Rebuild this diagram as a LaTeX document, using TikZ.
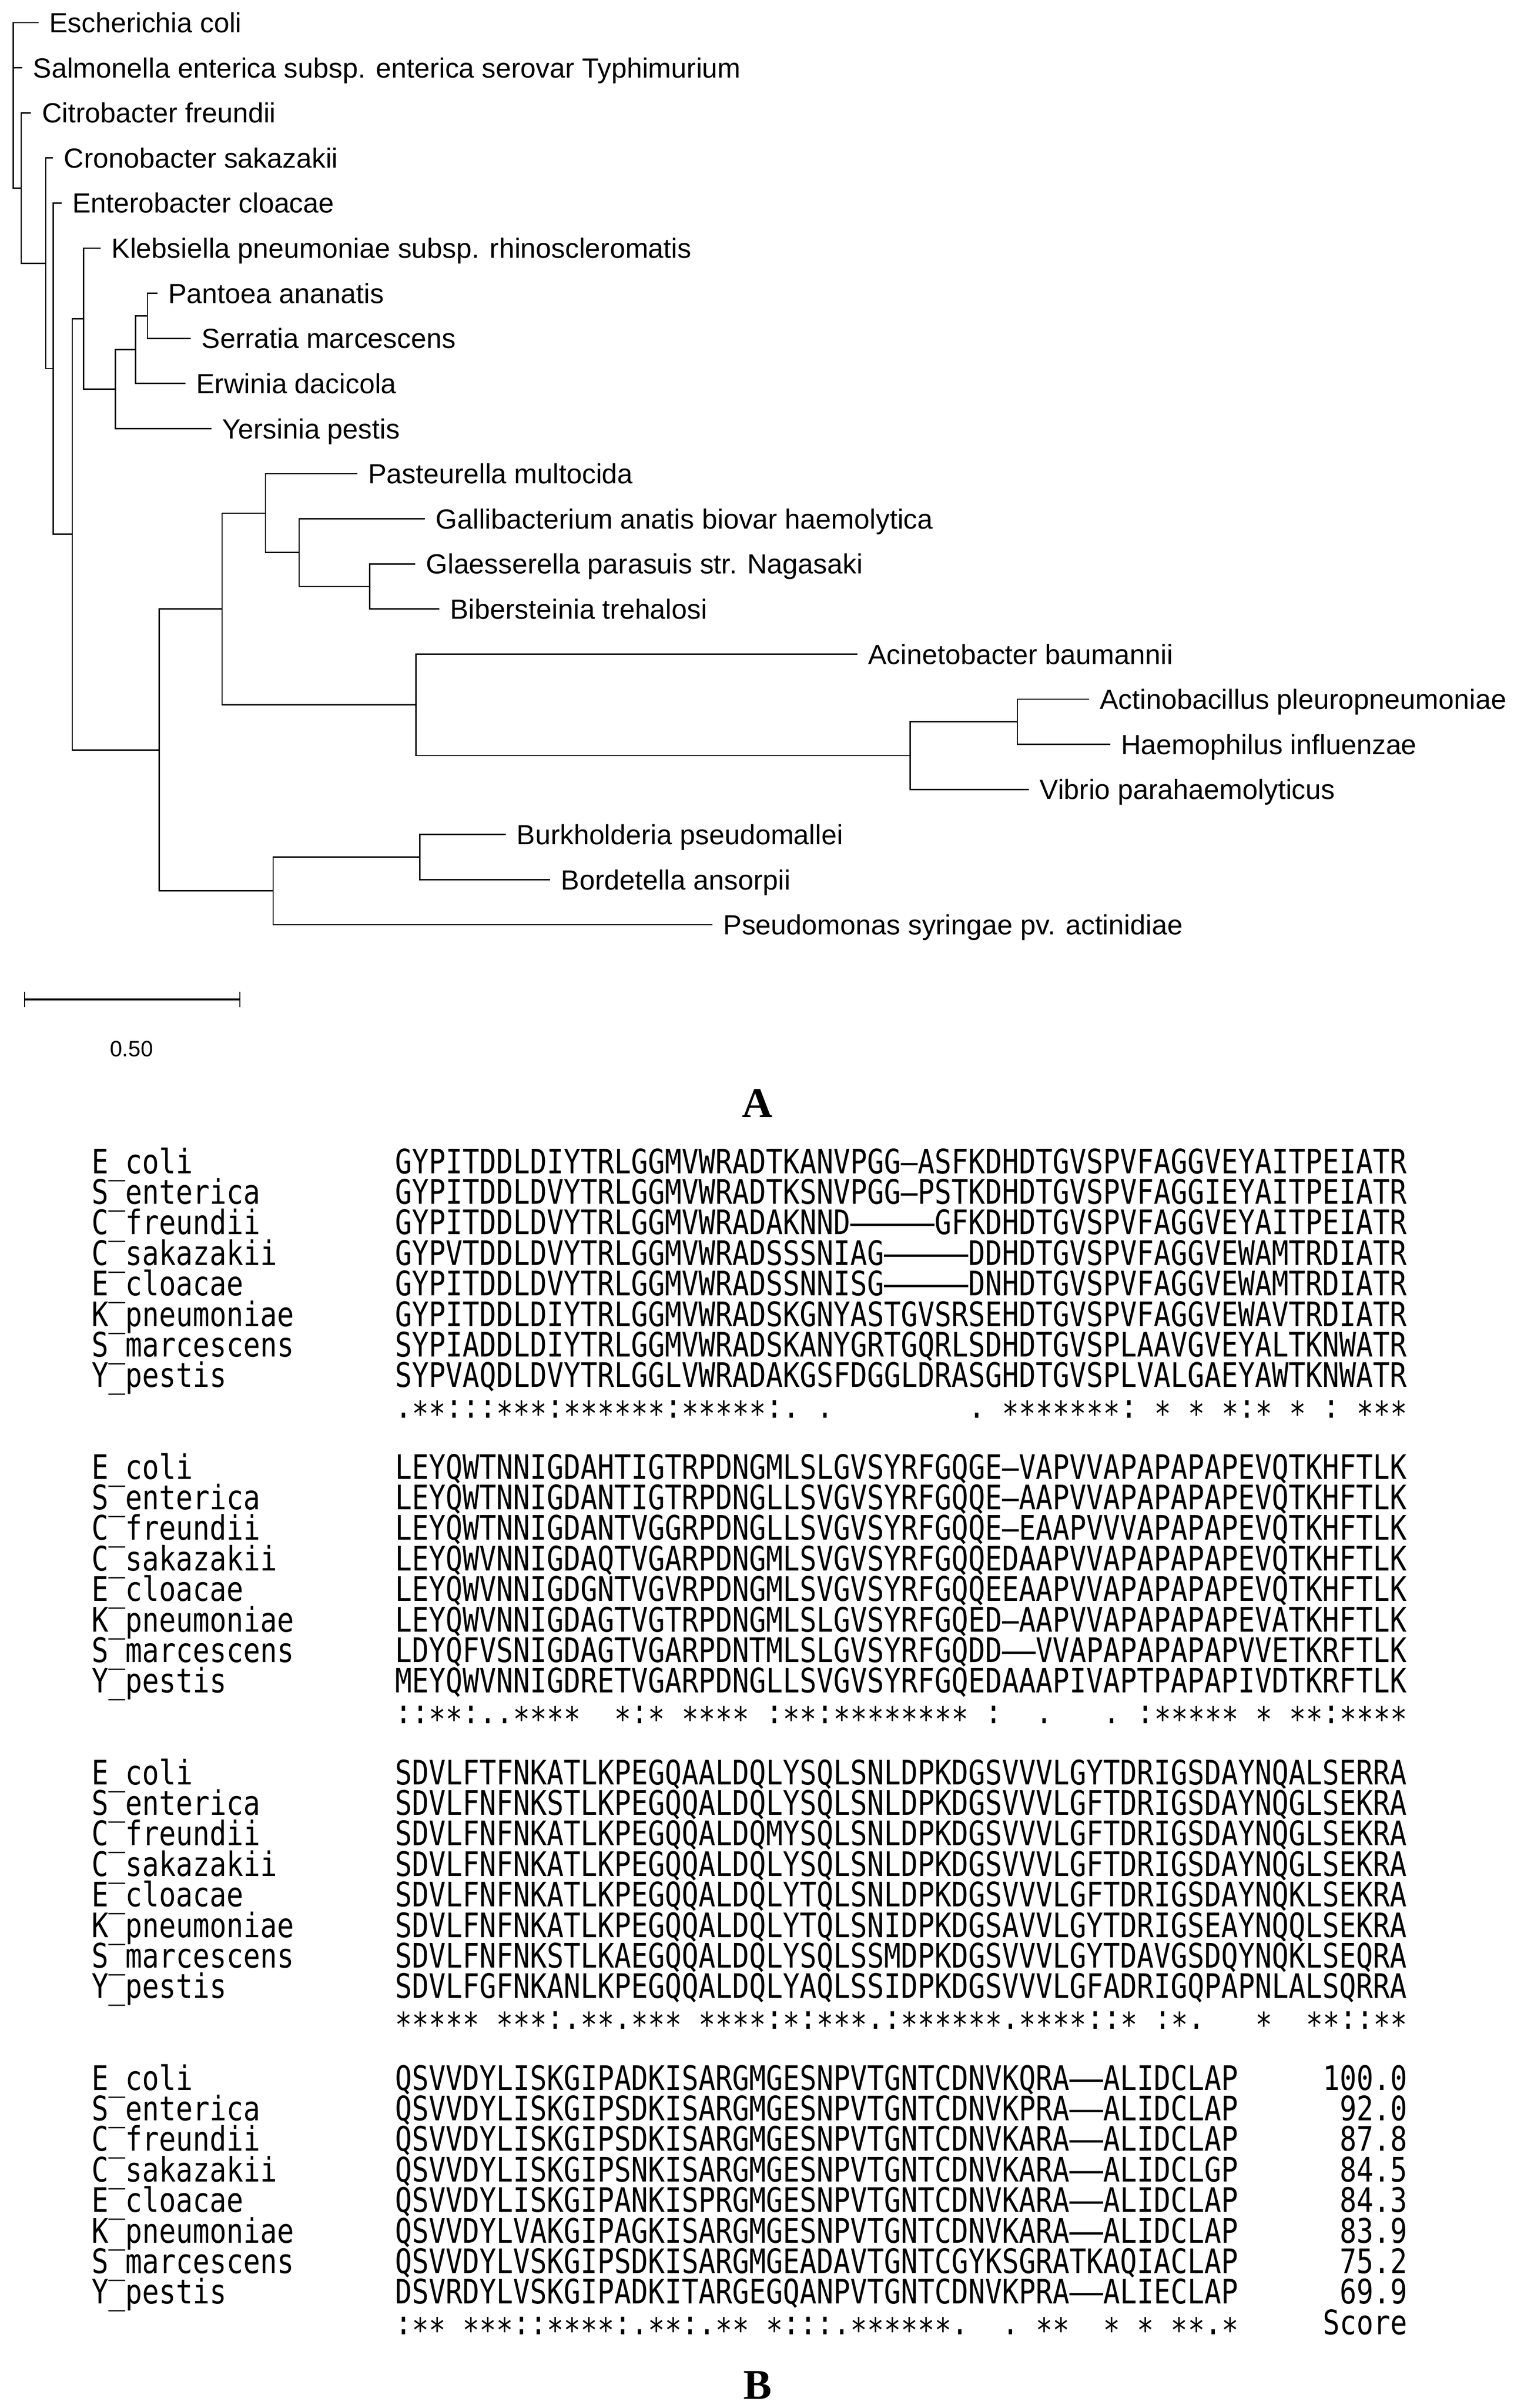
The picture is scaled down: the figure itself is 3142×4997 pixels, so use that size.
\documentclass[tikz,border=0pt]{standalone}
\usepackage{fontspec}
\newfontfamily\treefont{Liberation Sans}
\newfontfamily\seqfont[FakeStretch=0.8306]{DejaVu Sans Mono}
\newfontfamily\capfont{Liberation Serif}
\makeatletter
\def\cons#1{\cons@a#1\relax}
\def\cons@a#1{\ifx\relax#1\else\ifx|#1\hphantom{*}\else\ifx*#1\raisebox{-4pt}{*}\else#1\fi\fi\expandafter\cons@a\fi}
\makeatother
\tikzset{
  br/.style={line width=0.7pt},
  lab/.style={anchor=base west, inner sep=0pt, xshift=5.5pt, yshift=-5.15pt,
    font=\treefont\fontsize{14.375pt}{16pt}\selectfont},
  nm/.style={anchor=base west, inner sep=0pt, font=\seqfont\fontsize{17.5pt}{20pt}\selectfont},
  sc/.style={anchor=base east, inner sep=0pt, font=\seqfont\fontsize{17.5pt}{20pt}\selectfont},
  panellab/.style={anchor=base, inner sep=0pt, font=\capfont\bfseries\fontsize{22pt}{24pt}\selectfont}
}
\begin{document}
\begin{tikzpicture}[x=0.25pt,y=-0.25pt]
\useasboundingbox (0,0) rectangle (3142,4997);
\fill[white] (0,0) rectangle (3142,4997);

% ---------- tree: internal nodes ----------
\coordinate (root) at (27.6,218.7);
\coordinate (nA) at (43.9,390.3);
\coordinate (nB) at (94.9,546.5);
\coordinate (nC) at (110.2,765.1);
\coordinate (nD) at (150,1108.8);
\coordinate (nE) at (173.5,661.25);
\coordinate (nG) at (239.8,807.5);
\coordinate (nH) at (281.6,725.6);
\coordinate (nI) at (306,655.4);
\coordinate (nF) at (330.7,1556.3);
\coordinate (nJ) at (461,1263.8);
\coordinate (nL) at (551,1064.9);
\coordinate (nN) at (621,1146.8);
\coordinate (nO) at (767.5,1217);
\coordinate (nM) at (863.7,1462.7);
\coordinate (nP) at (1889.8,1568);
\coordinate (nQ) at (2112,1497.8);
\coordinate (nK) at (567,1848.8);
\coordinate (nR) at (871.7,1778.6);

% ---------- tree: leaves ----------
\coordinate (lf0) at (79.6,47);      \node[lab] (t0) at (lf0) {Escherichia coli};
\coordinate (lf1) at (46,140.6);     \node[lab] (t1) at (lf1) {Salmonella enterica subsp. enterica serovar Typhimurium};
\coordinate (lf2) at (64.3,234.2);   \node[lab] (t2) at (lf2) {Citrobacter freundii};
\coordinate (lf3) at (110,327.8);    \node[lab] (t3) at (lf3) {Cronobacter sakazakii};
\coordinate (lf4) at (127.6,421.4);  \node[lab] (t4) at (lf4) {Enterobacter cloacae};
\coordinate (lf5) at (209,515);      \node[lab] (t5) at (lf5) {Klebsiella pneumoniae subsp. rhinoscleromatis};
\coordinate (lf6) at (326.5,608.6);  \node[lab] (t6) at (lf6) {Pantoea ananatis};
\coordinate (lf7) at (396,702.2);    \node[lab] (t7) at (lf7) {Serratia marcescens};
\coordinate (lf8) at (384.7,795.8);  \node[lab] (t8) at (lf8) {Erwinia dacicola};
\coordinate (lf9) at (438.8,889.4);  \node[lab] (t9) at (lf9) {Yersinia pestis};
\coordinate (lf10) at (741.5,983);   \node[lab] (t10) at (lf10) {Pasteurella multocida};
\coordinate (lf11) at (881.8,1076.6); \node[lab] (t11) at (lf11) {Gallibacterium anatis biovar haemolytica};
\coordinate (lf12) at (861.7,1170.2); \node[lab] (t12) at (lf12) {Glaesserella parasuis str. Nagasaki};
\coordinate (lf13) at (911.8,1263.8); \node[lab] (t13) at (lf13) {Bibersteinia trehalosi};
\coordinate (lf14) at (1779.6,1357.4); \node[lab] (t14) at (lf14) {Acinetobacter baumannii};
\coordinate (lf15) at (2260.5,1451);  \node[lab] (t15) at (lf15) {Actinobacillus pleuropneumoniae};
\coordinate (lf16) at (2304.6,1544.6); \node[lab] (t16) at (lf16) {Haemophilus influenzae};
\coordinate (lf17) at (2136,1638.2);  \node[lab] (t17) at (lf17) {Vibrio parahaemolyticus};
\coordinate (lf18) at (1050,1731.8);  \node[lab] (t18) at (lf18) {Burkholderia pseudomallei};
\coordinate (lf19) at (1142,1825.4);  \node[lab] (t19) at (lf19) {Bordetella ansorpii};
\coordinate (lf20) at (1479,1919);    \node[lab] (t20) at (lf20) {Pseudomonas syringae pv. actinidiae};

% ---------- tree: branches ----------
\foreach \p/\c in {root/lf0, root/lf1, root/nA, nA/lf2, nA/nB, nB/lf3, nB/nC,
  nC/lf4, nC/nD, nD/nE, nD/nF, nE/lf5, nE/nG, nG/nH, nG/lf9, nH/nI, nH/lf8,
  nI/lf6, nI/lf7, nF/nJ, nF/nK, nJ/nL, nJ/nM, nL/lf10, nL/nN, nN/lf11, nN/nO,
  nO/lf12, nO/lf13, nM/lf14, nM/nP, nP/nQ, nP/lf17, nQ/lf15, nQ/lf16,
  nK/nR, nK/lf20, nR/lf18, nR/lf19}
  \draw[br] (\p) |- (\c);

% ---------- scale bar ----------
\coordinate (sbL) at (51,2074);
\coordinate (sbR) at (498,2074);
\draw[line width=0.9pt] (sbL) -- (sbR);
\draw[line width=0.5pt] ([yshift=4pt]sbL) -- ([yshift=-4pt]sbL);
\draw[line width=0.5pt] ([yshift=4pt]sbR) -- ([yshift=-4pt]sbR);
\node[anchor=base, inner sep=0pt, font=\treefont\fontsize{11.5pt}{13pt}\selectfont] (sblab) at (273,2192) {0.50};

\node[panellab] (capA) at (1572,2318) {A};

% ---------- alignment block 1 ----------
\node[nm] (n1a) at (190,2435.0) {E\_coli};       \node[nm] (s1a) at (820,2435.0) {GYPITDDLDIYTRLGGMVWRADTKANVPGG–ASFKDHDTGVSPVFAGGVEYAITPEIATR};
\node[nm] (n1b) at (190,2498.4) {S\_enterica};   \node[nm] (s1b) at (820,2498.4) {GYPITDDLDVYTRLGGMVWRADTKSNVPGG–PSTKDHDTGVSPVFAGGIEYAITPEIATR};
\node[nm] (n1c) at (190,2561.8) {C\_freundii};   \node[nm] (s1c) at (820,2561.8) {GYPITDDLDVYTRLGGMVWRADAKNND–––––GFKDHDTGVSPVFAGGVEYAITPEIATR};
\node[nm] (n1d) at (190,2625.2) {C\_sakazakii};  \node[nm] (s1d) at (820,2625.2) {GYPVTDDLDVYTRLGGMVWRADSSSNIAG–––––DDHDTGVSPVFAGGVEWAMTRDIATR};
\node[nm] (n1e) at (190,2688.6) {E\_cloacae};    \node[nm] (s1e) at (820,2688.6) {GYPITDDLDVYTRLGGMVWRADSSNNISG–––––DNHDTGVSPVFAGGVEWAMTRDIATR};
\node[nm] (n1f) at (190,2752.0) {K\_pneumoniae}; \node[nm] (s1f) at (820,2752.0) {GYPITDDLDIYTRLGGMVWRADSKGNYASTGVSRSEHDTGVSPVFAGGVEWAVTRDIATR};
\node[nm] (n1g) at (190,2815.4) {S\_marcescens}; \node[nm] (s1g) at (820,2815.4) {SYPIADDLDIYTRLGGMVWRADSKANYGRTGQRLSDHDTGVSPLAAVGVEYALTKNWATR};
\node[nm] (n1h) at (190,2878.8) {Y\_pestis};     \node[nm] (s1h) at (820,2878.8) {SYPVAQDLDVYTRLGGLVWRADAKGSFDGGLDRASGHDTGVSPLVALGAEYAWTKNWATR};
\node[nm] (c1) at (820,2942.2) {\cons{.**:::***:******:*****:.|.||||||||.|*******:|*|*|*:*|*|:|***}};

% ---------- alignment block 2 ----------
\node[nm] (n2a) at (190,3069.0) {E\_coli};       \node[nm] (s2a) at (820,3069.0) {LEYQWTNNIGDAHTIGTRPDNGMLSLGVSYRFGQGE–VAPVVAPAPAPAPEVQTKHFTLK};
\node[nm] (n2b) at (190,3132.4) {S\_enterica};   \node[nm] (s2b) at (820,3132.4) {LEYQWTNNIGDANTIGTRPDNGLLSVGVSYRFGQQE–AAPVVAPAPAPAPEVQTKHFTLK};
\node[nm] (n2c) at (190,3195.8) {C\_freundii};   \node[nm] (s2c) at (820,3195.8) {LEYQWTNNIGDANTVGGRPDNGLLSVGVSYRFGQQE–EAAPVVVAPAPAPEVQTKHFTLK};
\node[nm] (n2d) at (190,3259.2) {C\_sakazakii};  \node[nm] (s2d) at (820,3259.2) {LEYQWVNNIGDAQTVGARPDNGMLSVGVSYRFGQQEDAAPVVAPAPAPAPEVQTKHFTLK};
\node[nm] (n2e) at (190,3322.6) {E\_cloacae};    \node[nm] (s2e) at (820,3322.6) {LEYQWVNNIGDGNTVGVRPDNGMLSVGVSYRFGQQEEAAPVVAPAPAPAPEVQTKHFTLK};
\node[nm] (n2f) at (190,3386.0) {K\_pneumoniae}; \node[nm] (s2f) at (820,3386.0) {LEYQWVNNIGDAGTVGTRPDNGMLSLGVSYRFGQED–AAPVVAPAPAPAPEVATKHFTLK};
\node[nm] (n2g) at (190,3449.4) {S\_marcescens}; \node[nm] (s2g) at (820,3449.4) {LDYQFVSNIGDAGTVGARPDNTMLSLGVSYRFGQDD––VVAPAPAPAPAPVVETKRFTLK};
\node[nm] (n2h) at (190,3512.8) {Y\_pestis};     \node[nm] (s2h) at (820,3512.8) {MEYQWVNNIGDRETVGARPDNGLLSVGVSYRFGQEDAAAPIVAPTPAPAPIVDTKRFTLK};
\node[nm] (c2) at (820,3576.2) {\cons{::**:..****||*:*|****|:**:********|:||.|||.|:*****|*|**:****}};

% ---------- alignment block 3 ----------
\node[nm] (n3a) at (190,3703.0) {E\_coli};       \node[nm] (s3a) at (820,3703.0) {SDVLFTFNKATLKPEGQAALDQLYSQLSNLDPKDGSVVVLGYTDRIGSDAYNQALSERRA};
\node[nm] (n3b) at (190,3766.4) {S\_enterica};   \node[nm] (s3b) at (820,3766.4) {SDVLFNFNKSTLKPEGQQALDQLYSQLSNLDPKDGSVVVLGFTDRIGSDAYNQGLSEKRA};
\node[nm] (n3c) at (190,3829.8) {C\_freundii};   \node[nm] (s3c) at (820,3829.8) {SDVLFNFNKATLKPEGQQALDQMYSQLSNLDPKDGSVVVLGFTDRIGSDAYNQGLSEKRA};
\node[nm] (n3d) at (190,3893.2) {C\_sakazakii};  \node[nm] (s3d) at (820,3893.2) {SDVLFNFNKATLKPEGQQALDQLYSQLSNLDPKDGSVVVLGFTDRIGSDAYNQGLSEKRA};
\node[nm] (n3e) at (190,3956.6) {E\_cloacae};    \node[nm] (s3e) at (820,3956.6) {SDVLFNFNKATLKPEGQQALDQLYTQLSNLDPKDGSVVVLGFTDRIGSDAYNQKLSEKRA};
\node[nm] (n3f) at (190,4020.0) {K\_pneumoniae}; \node[nm] (s3f) at (820,4020.0) {SDVLFNFNKATLKPEGQQALDQLYTQLSNIDPKDGSAVVLGYTDRIGSEAYNQQLSEKRA};
\node[nm] (n3g) at (190,4083.4) {S\_marcescens}; \node[nm] (s3g) at (820,4083.4) {SDVLFNFNKSTLKAEGQQALDQLYSQLSSMDPKDGSVVVLGYTDAVGSDQYNQKLSEQRA};
\node[nm] (n3h) at (190,4146.8) {Y\_pestis};     \node[nm] (s3h) at (820,4146.8) {SDVLFGFNKANLKPEGQQALDQLYAQLSSIDPKDGSVVVLGFADRIGQPAPNLALSQRRA};
\node[nm] (c3) at (820,4210.2) {\cons{*****|***:.**.***|****:*:***.:******.****::*|:*.|||*||**::**}};

% ---------- alignment block 4 ----------
\node[nm] (n4a) at (190,4337.0) {E\_coli};       \node[nm] (s4a) at (820,4337.0) {QSVVDYLISKGIPADKISARGMGESNPVTGNTCDNVKQRA––ALIDCLAP}; \node[sc] (p4a) at (2922,4337.0) {100.0};
\node[nm] (n4b) at (190,4400.4) {S\_enterica};   \node[nm] (s4b) at (820,4400.4) {QSVVDYLISKGIPSDKISARGMGESNPVTGNTCDNVKPRA––ALIDCLAP}; \node[sc] (p4b) at (2922,4400.4) {92.0};
\node[nm] (n4c) at (190,4463.8) {C\_freundii};   \node[nm] (s4c) at (820,4463.8) {QSVVDYLISKGIPSDKISARGMGESNPVTGNTCDNVKARA––ALIDCLAP}; \node[sc] (p4c) at (2922,4463.8) {87.8};
\node[nm] (n4d) at (190,4527.2) {C\_sakazakii};  \node[nm] (s4d) at (820,4527.2) {QSVVDYLISKGIPSNKISARGMGESNPVTGNTCDNVKARA––ALIDCLGP}; \node[sc] (p4d) at (2922,4527.2) {84.5};
\node[nm] (n4e) at (190,4590.6) {E\_cloacae};    \node[nm] (s4e) at (820,4590.6) {QSVVDYLISKGIPANKISPRGMGESNPVTGNTCDNVKARA––ALIDCLAP}; \node[sc] (p4e) at (2922,4590.6) {84.3};
\node[nm] (n4f) at (190,4654.0) {K\_pneumoniae}; \node[nm] (s4f) at (820,4654.0) {QSVVDYLVAKGIPAGKISARGMGESNPVTGNTCDNVKARA––ALIDCLAP}; \node[sc] (p4f) at (2922,4654.0) {83.9};
\node[nm] (n4g) at (190,4717.4) {S\_marcescens}; \node[nm] (s4g) at (820,4717.4) {QSVVDYLVSKGIPSDKISARGMGEADAVTGNTCGYKSGRATKAQIACLAP}; \node[sc] (p4g) at (2922,4717.4) {75.2};
\node[nm] (n4h) at (190,4780.8) {Y\_pestis};     \node[nm] (s4h) at (820,4780.8) {DSVRDYLVSKGIPADKITARGEGQANPVTGNTCDNVKPRA––ALIECLAP}; \node[sc] (p4h) at (2922,4780.8) {69.9};
\node[nm] (c4) at (820,4844.2) {\cons{:**|***::****:.**:.**|*:::.******.||.|**||*|*|**.*}};
\node[sc] (score) at (2922,4844.2) {Score};

\node[panellab] (capB) at (1573,4978) {B};
\end{tikzpicture}
\end{document}
